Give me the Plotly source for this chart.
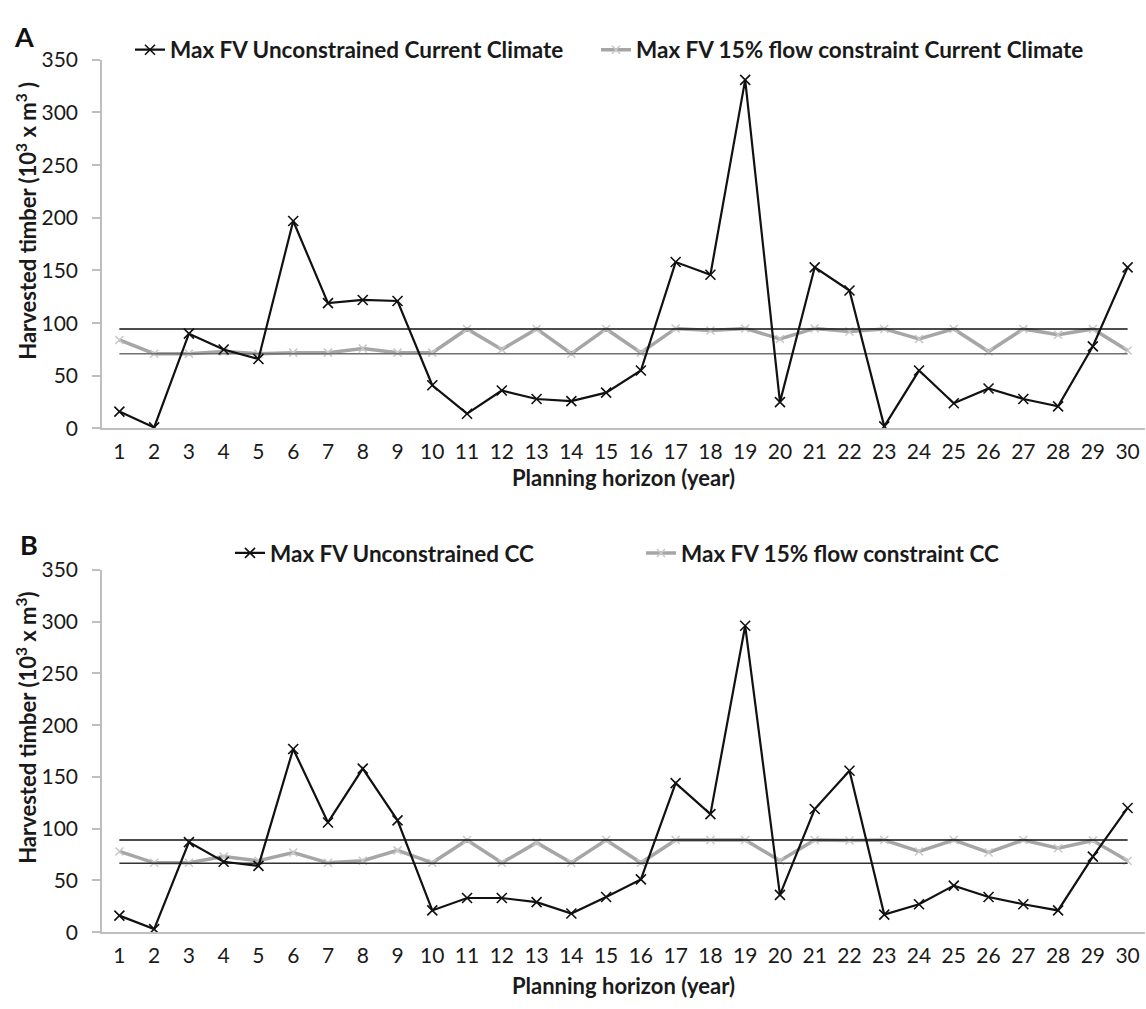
import plotly.graph_objects as go

years = list(range(1, 31))

# Panel A – current climate
a_unconstrained = [16, 1, 90, 75, 66, 197, 119, 122, 121, 41, 14, 36, 28, 26, 34,
                   55, 158, 146, 331, 25, 153, 131, 2, 55, 24, 38, 28, 21, 78, 153]
a_constrained = [84, 71, 71, 73, 71, 72, 72, 76, 72, 72, 94.5, 75, 94.5, 71, 94.5,
                 72, 95, 93, 95, 85, 95, 92, 94.5, 85, 94.5, 73, 94.5, 89, 94.5, 74]
a_upper = [94.5] * 30
a_lower = [71] * 30

# Panel B – climate change
b_unconstrained = [16, 3, 87, 68, 64, 177, 106, 158, 108, 21, 33, 33, 29, 18, 34,
                   51, 144, 114, 296, 36, 119, 156, 17, 27, 45, 34, 27, 21, 73, 120]
b_constrained = [78, 67, 67, 73, 69, 77, 67, 69, 79, 67, 89, 67, 86.5, 67, 89,
                 67, 89, 89, 89, 69, 89, 88.5, 89, 78, 89, 77, 89, 81, 88.5, 69]
b_upper = [89] * 30
b_lower = [66.5] * 30

legend_a = ["Max FV Unconstrained Current Climate", "Max FV 15% flow constraint Current Climate"]
legend_b = ["Max FV Unconstrained CC", "Max FV 15% flow constraint CC"]

y_ticks = [0, 50, 100, 150, 200, 250, 300, 350]

W, H = 1146, 1009
ML, MR = 102, 1
PW = W - ML - MR
FONT = "Lato"
TXT = "#1a1a1a"


def px_x(px):
    return (px - ML) / PW


def px_y(py):
    return 1 - py / H


fig = go.Figure()


def add_panel(xa, ya, unc, con, up, lo, names, leg1, leg2, lo_color):
    fig.add_trace(go.Scatter(x=years, y=con, mode="lines+markers", name=names[1],
                             line=dict(color="#a6a6a6", width=3.5),
                             marker=dict(symbol="x-thin", size=8, color="#c8c8c8",
                                         line=dict(width=1.5, color="#c8c8c8")),
                             xaxis=xa, yaxis=ya, legend=leg2))
    fig.add_trace(go.Scatter(x=years, y=up, mode="lines", showlegend=False,
                             line=dict(color="#111111", width=1.5), xaxis=xa, yaxis=ya))
    fig.add_trace(go.Scatter(x=years, y=lo, mode="lines", showlegend=False,
                             line=dict(color=lo_color, width=1.5), xaxis=xa, yaxis=ya))
    fig.add_trace(go.Scatter(x=years, y=unc, mode="lines+markers", name=names[0],
                             line=dict(color="#111111", width=2.2),
                             marker=dict(symbol="x-thin", size=10, color="#111111",
                                         line=dict(width=1.6, color="#111111")),
                             xaxis=xa, yaxis=ya, legend=leg1))


add_panel("x", "y", a_unconstrained, a_constrained, a_upper, a_lower, legend_a,
          "legend", "legend2", "#707070")
add_panel("x2", "y2", b_unconstrained, b_constrained, b_upper, b_lower, legend_b,
          "legend3", "legend4", "#333333")

dom_a = [px_y(425), px_y(47)]
dom_b = [px_y(941.5), px_y(570)]

xax = dict(range=[0.5, 30.5], tickvals=years, ticktext=[str(v) for v in years],
           showline=True, linecolor="#bfbfbf", linewidth=1.5, showgrid=False,
           zeroline=False, ticks="", ticklabelstandoff=4,
           tickfont=dict(family=FONT, size=21, color=TXT), domain=[0, 1])
yax = dict(range=[0, 350], tickvals=y_ticks, showline=True, linecolor="#bfbfbf",
           linewidth=1.5, showgrid=False, zeroline=False, ticks="outside",
           ticklen=8, tickcolor="#bfbfbf", tickwidth=1.5, ticklabelstandoff=10,
           tickfont=dict(family=FONT, size=21, color=TXT))

leg_common = dict(orientation="h", xanchor="left", yanchor="middle",
                  bgcolor="rgba(0,0,0,0)",
                  font=dict(family=FONT, size=22.5, color=TXT, weight="bold"),
                  itemwidth=30, tracegroupgap=0)

fig.update_layout(
    width=W, height=H,
    margin=dict(l=ML, r=MR, t=0, b=0),
    paper_bgcolor="white", plot_bgcolor="white",
    xaxis=dict(xax, anchor="y"),
    yaxis=dict(yax, domain=dom_a, anchor="x"),
    xaxis2=dict(xax, anchor="y2"),
    yaxis2=dict(yax, domain=dom_b, anchor="x2"),
    legend=dict(leg_common, x=px_x(130), y=px_y(37)),
    legend2=dict(leg_common, x=px_x(596), y=px_y(37)),
    legend3=dict(leg_common, x=px_x(230), y=px_y(553)),
    legend4=dict(leg_common, x=px_x(641), y=px_y(553)),
    showlegend=True,
)

ann = []
ann.append(dict(text="<b>A</b>", x=px_x(12), y=px_y(23), xref="paper", yref="paper",
                xanchor="left", yanchor="middle", showarrow=False,
                font=dict(family=FONT, size=27, color="#111111")))
ann.append(dict(text="<b>B</b>", x=px_x(18), y=px_y(544), xref="paper", yref="paper",
                xanchor="left", yanchor="middle", showarrow=False,
                font=dict(family=FONT, size=27, color="#111111")))
ann.append(dict(text="<b>Harvested timber (10<sup>3</sup> x m<sup>3</sup> )</b>",
                x=px_x(27), y=px_y(212), xref="paper", yref="paper",
                textangle=-90, showarrow=False, xanchor="center", yanchor="middle",
                font=dict(family=FONT, size=22, color=TXT)))
ann.append(dict(text="<b>Harvested timber (10<sup>3</sup> x m<sup>3</sup>)</b>",
                x=px_x(27), y=px_y(732), xref="paper", yref="paper",
                textangle=-90, showarrow=False, xanchor="center", yanchor="middle",
                font=dict(family=FONT, size=22, color=TXT)))
ann.append(dict(text="<b>Planning horizon (year)</b>", x=0.5, y=px_y(475),
                xref="x domain", yref="paper", showarrow=False, xanchor="center",
                yanchor="middle", font=dict(family=FONT, size=22, color=TXT)))
ann.append(dict(text="<b>Planning horizon (year)</b>", x=0.5, y=px_y(996),
                xref="x2 domain", yref="paper", showarrow=False, xanchor="center",
                yanchor="middle", font=dict(family=FONT, size=22, color=TXT)))
fig.update_layout(annotations=ann)

fig.write_html("out.html",
               config={"displayModeBar": False},
               post_script="document.body.style.margin='0';"
                           "document.body.style.overflow='hidden';")
